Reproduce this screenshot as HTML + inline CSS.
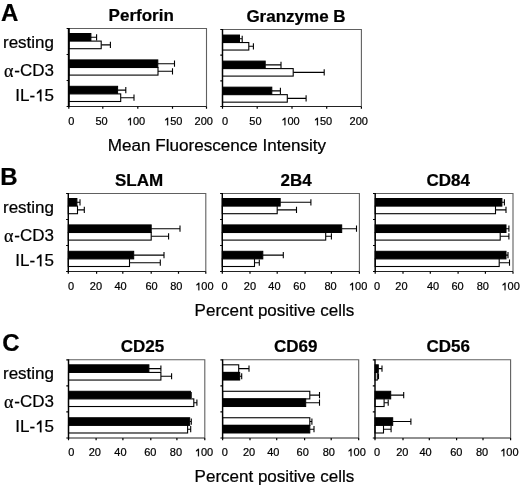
<!DOCTYPE html>
<html><head><meta charset="utf-8"><title>Figure</title>
<style>
html,body{margin:0;padding:0;background:#fff;}
body{width:520px;height:486px;overflow:hidden;}
svg{display:block;}
#w{will-change:transform;width:520px;height:486px;}
text{font-family:"Liberation Sans", sans-serif;fill:#000;stroke:#000;stroke-width:0.22px;}
.tk{font-size:11px;}
.g1{fill:#000;stroke:#000;stroke-width:0.22px;vector-effect:non-scaling-stroke;}
.tt{font-size:17px;font-weight:bold;}
.rl{font-size:17px;}
.al{font-family:"Liberation Serif", serif;font-size:18px;}
.pl{font-size:24px;font-weight:bold;}
.ax{font-size:17px;}
</style></head>
<body><div id="w"><svg width="520" height="486" viewBox="0 0 520 486">
<rect width="520" height="486" fill="#fff"/>
<path d="M68.8 28.5H206.5V106.5" fill="none" stroke="#606060" stroke-width="1.1"/>
<path d="M90.9 37.3H96.6M96.6 34.2V40.4" stroke="#000" stroke-width="1.1" fill="none"/>
<rect x="68.8" y="33.5" width="22.1" height="7.6" fill="#000" stroke="#000" stroke-width="1"/>
<path d="M101.2 44.9H110.4M110.4 41.8V48" stroke="#000" stroke-width="1.1" fill="none"/>
<rect x="68.8" y="41.1" width="32.4" height="7.6" fill="#fff" stroke="#000" stroke-width="1.1"/>
<path d="M157.8 63.7H174.5M174.5 60.6V66.8" stroke="#000" stroke-width="1.1" fill="none"/>
<rect x="68.8" y="59.9" width="89" height="7.6" fill="#000" stroke="#000" stroke-width="1"/>
<path d="M158 71.3H172.5M172.5 68.2V74.4" stroke="#000" stroke-width="1.1" fill="none"/>
<rect x="68.8" y="67.5" width="89.2" height="7.6" fill="#fff" stroke="#000" stroke-width="1.1"/>
<path d="M117.6 90.1H125.8M125.8 87V93.2" stroke="#000" stroke-width="1.1" fill="none"/>
<rect x="68.8" y="86.3" width="48.8" height="7.6" fill="#000" stroke="#000" stroke-width="1"/>
<path d="M120.7 97.7H134M134 94.6V100.8" stroke="#000" stroke-width="1.1" fill="none"/>
<rect x="68.8" y="93.9" width="51.9" height="7.6" fill="#fff" stroke="#000" stroke-width="1.1"/>
<path d="M68.8 106.5H206.5" stroke="#222" stroke-width="1.2"/>
<path d="M68.8 106.5V108.7M102.8 106.5V108.7M137.8 106.5V108.7M172.5 106.5V108.7M206.5 106.5V108.7" stroke="#000" stroke-width="1.2"/>
<path d="M66.6 28.5H68.8M66.6 54.5H68.8M66.6 80.5H68.8M66.6 106.5H68.8" stroke="#000" stroke-width="1.2"/>
<path d="M68.8 28V107.1" stroke="#000" stroke-width="2.0"/>
<text x="71.3" y="125.3" text-anchor="middle" class="tk">0</text>
<text x="101.5" y="125.3" text-anchor="middle" class="tk">50</text>
<text x="136" y="125.3" text-anchor="middle" class="tk">&#8199;00</text>
<path d="M583 0L583 1100L222 890L222 1060L610 1409L763 1409L763 0Z" transform="translate(126.82 125.3) scale(0.005371 -0.005371)" class="g1"/>
<text x="173.2" y="125.3" text-anchor="middle" class="tk">&#8199;50</text>
<path d="M583 0L583 1100L222 890L222 1060L610 1409L763 1409L763 0Z" transform="translate(164.02 125.3) scale(0.005371 -0.005371)" class="g1"/>
<text x="203.7" y="125.3" text-anchor="middle" class="tk">200</text>
<text x="108.6" y="20.8" class="tt">Perforin</text>
<path d="M222.5 29.5H361.4V106.5" fill="none" stroke="#606060" stroke-width="1.1"/>
<path d="M239.5 38.79H242.2M242.2 35.69V41.89" stroke="#000" stroke-width="1.1" fill="none"/>
<rect x="222.5" y="35.04" width="17" height="7.5" fill="#000" stroke="#000" stroke-width="1"/>
<path d="M248.8 46.29H253.4M253.4 43.19V49.39" stroke="#000" stroke-width="1.1" fill="none"/>
<rect x="222.5" y="42.54" width="26.3" height="7.5" fill="#fff" stroke="#000" stroke-width="1.1"/>
<path d="M265.2 64.85H281M281 61.75V67.95" stroke="#000" stroke-width="1.1" fill="none"/>
<rect x="222.5" y="61.1" width="42.7" height="7.5" fill="#000" stroke="#000" stroke-width="1"/>
<path d="M293.2 72.35H324.2M324.2 69.25V75.45" stroke="#000" stroke-width="1.1" fill="none"/>
<rect x="222.5" y="68.6" width="70.7" height="7.5" fill="#fff" stroke="#000" stroke-width="1.1"/>
<path d="M271.8 90.91H280.4M280.4 87.81V94.01" stroke="#000" stroke-width="1.1" fill="none"/>
<rect x="222.5" y="87.16" width="49.3" height="7.5" fill="#000" stroke="#000" stroke-width="1"/>
<path d="M287.3 98.41H306.1M306.1 95.31V101.51" stroke="#000" stroke-width="1.1" fill="none"/>
<rect x="222.5" y="94.66" width="64.8" height="7.5" fill="#fff" stroke="#000" stroke-width="1.1"/>
<path d="M222.5 106.5H361.4" stroke="#222" stroke-width="1.2"/>
<path d="M222.5 106.5V108.7M257.2 106.5V108.7M292 106.5V108.7M326.7 106.5V108.7M361.4 106.5V108.7" stroke="#000" stroke-width="1.2"/>
<path d="M220.3 29.5H222.5M220.3 55.17H222.5M220.3 80.83H222.5M220.3 106.5H222.5" stroke="#000" stroke-width="1.2"/>
<path d="M222.5 29V107.1" stroke="#000" stroke-width="1.45"/>
<text x="225" y="125.3" text-anchor="middle" class="tk">0</text>
<text x="255.4" y="125.3" text-anchor="middle" class="tk">50</text>
<text x="290.5" y="125.3" text-anchor="middle" class="tk">&#8199;00</text>
<path d="M583 0L583 1100L222 890L222 1060L610 1409L763 1409L763 0Z" transform="translate(281.32 125.3) scale(0.005371 -0.005371)" class="g1"/>
<text x="323" y="125.3" text-anchor="middle" class="tk">&#8199;50</text>
<path d="M583 0L583 1100L222 890L222 1060L610 1409L763 1409L763 0Z" transform="translate(313.82 125.3) scale(0.005371 -0.005371)" class="g1"/>
<text x="358.8" y="125.3" text-anchor="middle" class="tk">200</text>
<text x="246.4" y="21.8" class="tt">Granzyme B</text>
<path d="M68.3 193.5H205.8V271.5" fill="none" stroke="#606060" stroke-width="1.1"/>
<path d="M76.9 202.3H80M80 199.2V205.4" stroke="#000" stroke-width="1.1" fill="none"/>
<rect x="68.3" y="198.5" width="8.6" height="7.6" fill="#000" stroke="#000" stroke-width="1"/>
<path d="M77.5 209.9H84.3M84.3 206.8V213" stroke="#000" stroke-width="1.1" fill="none"/>
<rect x="68.3" y="206.1" width="9.2" height="7.6" fill="#fff" stroke="#000" stroke-width="1.1"/>
<path d="M151.2 228.7H180M180 225.6V231.8" stroke="#000" stroke-width="1.1" fill="none"/>
<rect x="68.3" y="224.9" width="82.9" height="7.6" fill="#000" stroke="#000" stroke-width="1"/>
<path d="M151.2 236.3H168.6M168.6 233.2V239.4" stroke="#000" stroke-width="1.1" fill="none"/>
<rect x="68.3" y="232.5" width="82.9" height="7.6" fill="#fff" stroke="#000" stroke-width="1.1"/>
<path d="M133.7 255.1H164M164 252V258.2" stroke="#000" stroke-width="1.1" fill="none"/>
<rect x="68.3" y="251.3" width="65.4" height="7.6" fill="#000" stroke="#000" stroke-width="1"/>
<path d="M129.5 262.7H160.3M160.3 259.6V265.8" stroke="#000" stroke-width="1.1" fill="none"/>
<rect x="68.3" y="258.9" width="61.2" height="7.6" fill="#fff" stroke="#000" stroke-width="1.1"/>
<path d="M68.3 271.5H205.8" stroke="#222" stroke-width="1.2"/>
<path d="M68.3 271.5V273.7M96.6 271.5V273.7M122.8 271.5V273.7M151.2 271.5V273.7M178.5 271.5V273.7M205.8 271.5V273.7" stroke="#000" stroke-width="1.2"/>
<path d="M66.1 193.5H68.3M66.1 219.5H68.3M66.1 245.5H68.3M66.1 271.5H68.3" stroke="#000" stroke-width="1.2"/>
<path d="M68.3 193V272.1" stroke="#000" stroke-width="1.45"/>
<text x="71" y="290.3" text-anchor="middle" class="tk">0</text>
<text x="95.9" y="290.3" text-anchor="middle" class="tk">20</text>
<text x="120.6" y="290.3" text-anchor="middle" class="tk">40</text>
<text x="151.5" y="290.3" text-anchor="middle" class="tk">60</text>
<text x="176.3" y="290.3" text-anchor="middle" class="tk">80</text>
<text x="204.4" y="290.3" text-anchor="middle" class="tk">&#8199;00</text>
<path d="M583 0L583 1100L222 890L222 1060L610 1409L763 1409L763 0Z" transform="translate(195.22 290.3) scale(0.005371 -0.005371)" class="g1"/>
<text x="115" y="185.8" class="tt">SLAM</text>
<path d="M222.3 193.5H359.4V271.5" fill="none" stroke="#606060" stroke-width="1.1"/>
<path d="M280.2 202.3H310.9M310.9 199.2V205.4" stroke="#000" stroke-width="1.1" fill="none"/>
<rect x="222.3" y="198.5" width="57.9" height="7.6" fill="#000" stroke="#000" stroke-width="1"/>
<path d="M277.2 209.9H296.5M296.5 206.8V213" stroke="#000" stroke-width="1.1" fill="none"/>
<rect x="222.3" y="206.1" width="54.9" height="7.6" fill="#fff" stroke="#000" stroke-width="1.1"/>
<path d="M341.7 228.7H356.5M356.5 225.6V231.8" stroke="#000" stroke-width="1.1" fill="none"/>
<rect x="222.3" y="224.9" width="119.4" height="7.6" fill="#000" stroke="#000" stroke-width="1"/>
<path d="M325.7 236.3H331.4M331.4 233.2V239.4" stroke="#000" stroke-width="1.1" fill="none"/>
<rect x="222.3" y="232.5" width="103.4" height="7.6" fill="#fff" stroke="#000" stroke-width="1.1"/>
<path d="M262.8 255.1H283.3M283.3 252V258.2" stroke="#000" stroke-width="1.1" fill="none"/>
<rect x="222.3" y="251.3" width="40.5" height="7.6" fill="#000" stroke="#000" stroke-width="1"/>
<path d="M254.5 262.7H259.3M259.3 259.6V265.8" stroke="#000" stroke-width="1.1" fill="none"/>
<rect x="222.3" y="258.9" width="32.2" height="7.6" fill="#fff" stroke="#000" stroke-width="1.1"/>
<path d="M222.3 271.5H359.4" stroke="#222" stroke-width="1.2"/>
<path d="M222.3 271.5V273.7M250 271.5V273.7M277.2 271.5V273.7M305.1 271.5V273.7M331.4 271.5V273.7M359.4 271.5V273.7" stroke="#000" stroke-width="1.2"/>
<path d="M220.1 193.5H222.3M220.1 219.5H222.3M220.1 245.5H222.3M220.1 271.5H222.3" stroke="#000" stroke-width="1.2"/>
<path d="M222.3 193V272.1" stroke="#000" stroke-width="1.45"/>
<text x="224.6" y="290.3" text-anchor="middle" class="tk">0</text>
<text x="249.9" y="290.3" text-anchor="middle" class="tk">20</text>
<text x="274.4" y="290.3" text-anchor="middle" class="tk">40</text>
<text x="299.4" y="290.3" text-anchor="middle" class="tk">60</text>
<text x="330.5" y="290.3" text-anchor="middle" class="tk">80</text>
<text x="358.1" y="290.3" text-anchor="middle" class="tk">&#8199;00</text>
<path d="M583 0L583 1100L222 890L222 1060L610 1409L763 1409L763 0Z" transform="translate(348.92 290.3) scale(0.005371 -0.005371)" class="g1"/>
<text x="280.6" y="185.8" class="tt">2B4</text>
<path d="M375.2 193.5H513V271.5" fill="none" stroke="#606060" stroke-width="1.1"/>
<path d="M501.9 202.3H504.4M504.4 199.2V205.4" stroke="#000" stroke-width="1.1" fill="none"/>
<rect x="375.2" y="198.5" width="126.7" height="7.6" fill="#000" stroke="#000" stroke-width="1"/>
<path d="M495.5 209.9H506M506 206.8V213" stroke="#000" stroke-width="1.1" fill="none"/>
<rect x="375.2" y="206.1" width="120.3" height="7.6" fill="#fff" stroke="#000" stroke-width="1.1"/>
<path d="M506 228.7H508.9M508.9 225.6V231.8" stroke="#000" stroke-width="1.1" fill="none"/>
<rect x="375.2" y="224.9" width="130.8" height="7.6" fill="#000" stroke="#000" stroke-width="1"/>
<path d="M500.2 236.3H508.9M508.9 233.2V239.4" stroke="#000" stroke-width="1.1" fill="none"/>
<rect x="375.2" y="232.5" width="125" height="7.6" fill="#fff" stroke="#000" stroke-width="1.1"/>
<path d="M506 255.1H508M508 252V258.2" stroke="#000" stroke-width="1.1" fill="none"/>
<rect x="375.2" y="251.3" width="130.8" height="7.6" fill="#000" stroke="#000" stroke-width="1"/>
<path d="M499.2 262.7H509.5M509.5 259.6V265.8" stroke="#000" stroke-width="1.1" fill="none"/>
<rect x="375.2" y="258.9" width="124" height="7.6" fill="#fff" stroke="#000" stroke-width="1.1"/>
<path d="M375.2 271.5H513" stroke="#222" stroke-width="1.2"/>
<path d="M375.2 271.5V273.7M403 271.5V273.7M430.3 271.5V273.7M458.1 271.5V273.7M485.4 271.5V273.7M513 271.5V273.7" stroke="#000" stroke-width="1.2"/>
<path d="M373 193.5H375.2M373 219.5H375.2M373 245.5H375.2M373 271.5H375.2" stroke="#000" stroke-width="1.2"/>
<path d="M375.2 193V272.1" stroke="#000" stroke-width="1.45"/>
<text x="377" y="290.3" text-anchor="middle" class="tk">0</text>
<text x="401.4" y="290.3" text-anchor="middle" class="tk">20</text>
<text x="433" y="290.3" text-anchor="middle" class="tk">40</text>
<text x="457.5" y="290.3" text-anchor="middle" class="tk">60</text>
<text x="482.8" y="290.3" text-anchor="middle" class="tk">80</text>
<text x="510.6" y="290.3" text-anchor="middle" class="tk">&#8199;00</text>
<path d="M583 0L583 1100L222 890L222 1060L610 1409L763 1409L763 0Z" transform="translate(501.42 290.3) scale(0.005371 -0.005371)" class="g1"/>
<text x="426.5" y="185.8" class="tt">CD84</text>
<path d="M68.5 359.8H204.8V438" fill="none" stroke="#606060" stroke-width="1.1"/>
<path d="M148.9 368.62H160.9M160.9 365.52V371.72" stroke="#000" stroke-width="1.1" fill="none"/>
<rect x="68.5" y="364.81" width="80.4" height="7.62" fill="#000" stroke="#000" stroke-width="1"/>
<path d="M160.9 376.24H171.6M171.6 373.14V379.34" stroke="#000" stroke-width="1.1" fill="none"/>
<rect x="68.5" y="372.43" width="92.4" height="7.62" fill="#fff" stroke="#000" stroke-width="1.1"/>
<path d="M190.4 395.09H191.2M191.2 391.99V398.19" stroke="#000" stroke-width="1.1" fill="none"/>
<rect x="68.5" y="391.28" width="121.9" height="7.62" fill="#000" stroke="#000" stroke-width="1"/>
<path d="M193.8 402.71H196.9M196.9 399.61V405.81" stroke="#000" stroke-width="1.1" fill="none"/>
<rect x="68.5" y="398.9" width="125.3" height="7.62" fill="#fff" stroke="#000" stroke-width="1.1"/>
<path d="M189.7 421.56H191.3M191.3 418.46V424.66" stroke="#000" stroke-width="1.1" fill="none"/>
<rect x="68.5" y="417.75" width="121.2" height="7.62" fill="#000" stroke="#000" stroke-width="1"/>
<path d="M187.6 429.18H190.7M190.7 426.08V432.28" stroke="#000" stroke-width="1.1" fill="none"/>
<rect x="68.5" y="425.37" width="119.1" height="7.62" fill="#fff" stroke="#000" stroke-width="1.1"/>
<path d="M68.5 438H204.8" stroke="#222" stroke-width="1.2"/>
<path d="M68.5 438V440.2M96.1 438V440.2M122.9 438V440.2M150.8 438V440.2M176.9 438V440.2M204.8 438V440.2" stroke="#000" stroke-width="1.2"/>
<path d="M66.3 359.8H68.5M66.3 385.87H68.5M66.3 411.93H68.5M66.3 438H68.5" stroke="#000" stroke-width="1.2"/>
<path d="M68.5 359.3V438.6" stroke="#000" stroke-width="1.45"/>
<text x="71.3" y="456.3" text-anchor="middle" class="tk">0</text>
<text x="94.8" y="456.3" text-anchor="middle" class="tk">20</text>
<text x="120.4" y="456.3" text-anchor="middle" class="tk">40</text>
<text x="150.3" y="456.3" text-anchor="middle" class="tk">60</text>
<text x="175.9" y="456.3" text-anchor="middle" class="tk">80</text>
<text x="204" y="456.3" text-anchor="middle" class="tk">&#8199;00</text>
<path d="M583 0L583 1100L222 890L222 1060L610 1409L763 1409L763 0Z" transform="translate(194.82 456.3) scale(0.005371 -0.005371)" class="g1"/>
<text x="120.7" y="351.8" class="tt">CD25</text>
<path d="M222.6 359.8H358.7V438" fill="none" stroke="#606060" stroke-width="1.1"/>
<path d="M238.7 368.62H249M249 365.52V371.72" stroke="#000" stroke-width="1.1" fill="none"/>
<rect x="222.6" y="364.81" width="16.1" height="7.62" fill="#fff" stroke="#000" stroke-width="1.1"/>
<path d="M239.7 376.24H241.7M241.7 373.14V379.34" stroke="#000" stroke-width="1.1" fill="none"/>
<rect x="222.6" y="372.43" width="17.1" height="7.62" fill="#000" stroke="#000" stroke-width="1"/>
<path d="M309.8 395.09H319.5M319.5 391.99V398.19" stroke="#000" stroke-width="1.1" fill="none"/>
<rect x="222.6" y="391.28" width="87.2" height="7.62" fill="#fff" stroke="#000" stroke-width="1.1"/>
<path d="M305.7 402.71H319.5M319.5 399.61V405.81" stroke="#000" stroke-width="1.1" fill="none"/>
<rect x="222.6" y="398.9" width="83.1" height="7.62" fill="#000" stroke="#000" stroke-width="1"/>
<path d="M309.8 421.56H311.9M311.9 418.46V424.66" stroke="#000" stroke-width="1.1" fill="none"/>
<rect x="222.6" y="417.75" width="87.2" height="7.62" fill="#fff" stroke="#000" stroke-width="1.1"/>
<path d="M309.8 429.18H314M314 426.08V432.28" stroke="#000" stroke-width="1.1" fill="none"/>
<rect x="222.6" y="425.37" width="87.2" height="7.62" fill="#000" stroke="#000" stroke-width="1"/>
<path d="M222.6 438H358.7" stroke="#222" stroke-width="1.2"/>
<path d="M222.6 438V440.2M250 438V440.2M276.7 438V440.2M304.6 438V440.2M331.2 438V440.2M358.7 438V440.2" stroke="#000" stroke-width="1.2"/>
<path d="M220.4 359.8H222.6M220.4 385.87H222.6M220.4 411.93H222.6M220.4 438H222.6" stroke="#000" stroke-width="1.2"/>
<path d="M222.6 359.3V438.6" stroke="#000" stroke-width="1.45"/>
<text x="224.9" y="456.3" text-anchor="middle" class="tk">0</text>
<text x="249" y="456.3" text-anchor="middle" class="tk">20</text>
<text x="273.3" y="456.3" text-anchor="middle" class="tk">40</text>
<text x="302.7" y="456.3" text-anchor="middle" class="tk">60</text>
<text x="328.8" y="456.3" text-anchor="middle" class="tk">80</text>
<text x="356.6" y="456.3" text-anchor="middle" class="tk">&#8199;00</text>
<path d="M583 0L583 1100L222 890L222 1060L610 1409L763 1409L763 0Z" transform="translate(347.42 456.3) scale(0.005371 -0.005371)" class="g1"/>
<text x="274" y="351.8" class="tt">CD69</text>
<path d="M375 359.8H510.6V438" fill="none" stroke="#606060" stroke-width="1.1"/>
<path d="M378.3 368.62H382M382 365.52V371.72" stroke="#000" stroke-width="1.1" fill="none"/>
<rect x="375" y="364.81" width="3.3" height="7.62" fill="#000" stroke="#000" stroke-width="1"/>
<path d="M377.3 376.24H378.5M378.5 373.14V379.34" stroke="#000" stroke-width="1.1" fill="none"/>
<rect x="375" y="372.43" width="2.3" height="7.62" fill="#fff" stroke="#000" stroke-width="1.1"/>
<path d="M390.7 395.09H403.7M403.7 391.99V398.19" stroke="#000" stroke-width="1.1" fill="none"/>
<rect x="375" y="391.28" width="15.7" height="7.62" fill="#000" stroke="#000" stroke-width="1"/>
<path d="M384.1 402.71H388.2M388.2 399.61V405.81" stroke="#000" stroke-width="1.1" fill="none"/>
<rect x="375" y="398.9" width="9.1" height="7.62" fill="#fff" stroke="#000" stroke-width="1.1"/>
<path d="M392.7 421.56H410.9M410.9 418.46V424.66" stroke="#000" stroke-width="1.1" fill="none"/>
<rect x="375" y="417.75" width="17.7" height="7.62" fill="#000" stroke="#000" stroke-width="1"/>
<path d="M383.5 429.18H391.1M391.1 426.08V432.28" stroke="#000" stroke-width="1.1" fill="none"/>
<rect x="375" y="425.37" width="8.5" height="7.62" fill="#fff" stroke="#000" stroke-width="1.1"/>
<path d="M375 438H510.6" stroke="#222" stroke-width="1.2"/>
<path d="M375 438V440.2M403 438V440.2M429.3 438V440.2M456.6 438V440.2M483 438V440.2M510.6 438V440.2" stroke="#000" stroke-width="1.2"/>
<path d="M372.8 359.8H375M372.8 385.87H375M372.8 411.93H375M372.8 438H375" stroke="#000" stroke-width="1.2"/>
<path d="M375 359.3V438.6" stroke="#000" stroke-width="1.45"/>
<text x="377" y="456.3" text-anchor="middle" class="tk">0</text>
<text x="402.3" y="456.3" text-anchor="middle" class="tk">20</text>
<text x="425.5" y="456.3" text-anchor="middle" class="tk">40</text>
<text x="456.3" y="456.3" text-anchor="middle" class="tk">60</text>
<text x="482" y="456.3" text-anchor="middle" class="tk">80</text>
<text x="509.4" y="456.3" text-anchor="middle" class="tk">&#8199;00</text>
<path d="M583 0L583 1100L222 890L222 1060L610 1409L763 1409L763 0Z" transform="translate(500.22 456.3) scale(0.005371 -0.005371)" class="g1"/>
<text x="426.5" y="351.8" class="tt">CD56</text>
<text x="54" y="47.5" text-anchor="end" class="rl">resting</text>
<text x="54" y="76" text-anchor="end" class="rl">-CD3</text>
<text x="3.9" y="76.6" class="al">&#945;</text>
<text x="54" y="101.3" text-anchor="end" class="rl">IL-&#8199;5</text>
<path d="M583 0L583 1100L222 890L222 1060L610 1409L763 1409L763 0Z" transform="translate(35.09 101.3) scale(0.008301 -0.008301)" class="g1"/>
<text x="54" y="212.5" text-anchor="end" class="rl">resting</text>
<text x="54" y="241" text-anchor="end" class="rl">-CD3</text>
<text x="3.9" y="241.6" class="al">&#945;</text>
<text x="54" y="266.3" text-anchor="end" class="rl">IL-&#8199;5</text>
<path d="M583 0L583 1100L222 890L222 1060L610 1409L763 1409L763 0Z" transform="translate(35.09 266.3) scale(0.008301 -0.008301)" class="g1"/>
<text x="54" y="378.5" text-anchor="end" class="rl">resting</text>
<text x="54" y="407" text-anchor="end" class="rl">-CD3</text>
<text x="3.9" y="407.6" class="al">&#945;</text>
<text x="54" y="432.3" text-anchor="end" class="rl">IL-&#8199;5</text>
<path d="M583 0L583 1100L222 890L222 1060L610 1409L763 1409L763 0Z" transform="translate(35.09 432.3) scale(0.008301 -0.008301)" class="g1"/>
<text x="0.9" y="21" class="pl">A</text>
<text x="0.3" y="185" class="pl">B</text>
<text x="2.2" y="351.2" class="pl">C</text>
<text x="107.8" y="150.8" class="ax" style="font-size:17.08px">Mean Fluorescence Intensity</text>
<text x="194.6" y="315.5" class="ax">Percent positive cells</text>
<text x="194.6" y="481.7" class="ax">Percent positive cells</text>
</svg></div></body></html>
